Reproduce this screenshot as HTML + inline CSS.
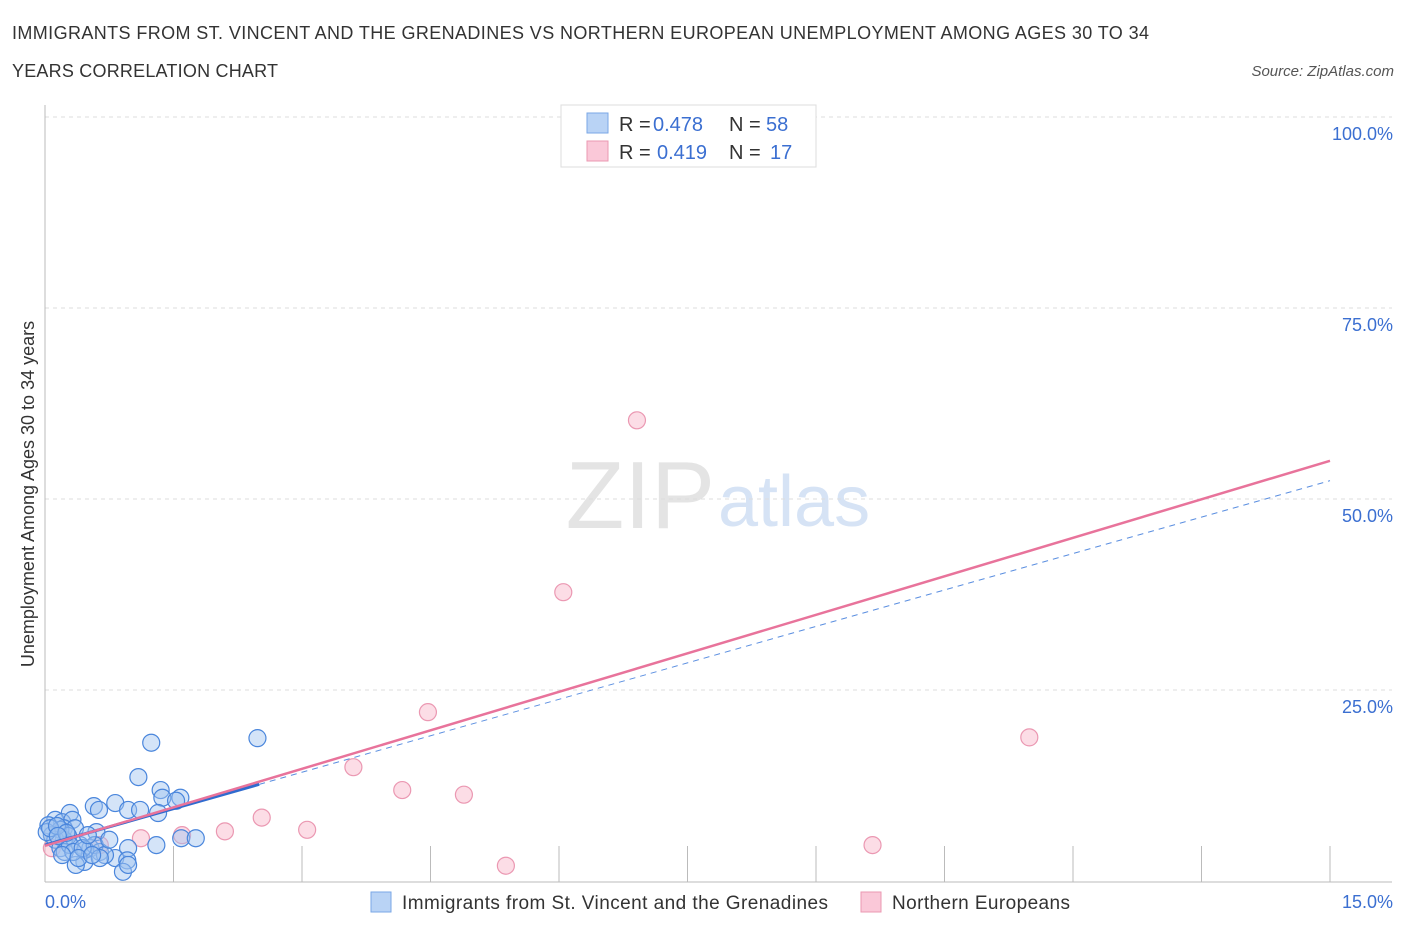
<!DOCTYPE html>
<html><head><meta charset="utf-8"><style>
body{margin:0;background:#fff;font-family:"Liberation Sans",sans-serif;}
svg text{font-family:"Liberation Sans",sans-serif;}
</style></head><body>
<svg id="chart" width="1406" height="930" xmlns="http://www.w3.org/2000/svg">
<text x="12" y="39" font-size="18" fill="#333" textLength="1137">IMMIGRANTS FROM ST. VINCENT AND THE GRENADINES VS NORTHERN EUROPEAN UNEMPLOYMENT AMONG AGES 30 TO 34</text>
<text x="12" y="77" font-size="18" fill="#333" textLength="266">YEARS CORRELATION CHART</text>
<text x="1394" y="76" font-size="15" fill="#555" font-style="italic" text-anchor="end">Source: ZipAtlas.com</text>
<text x="715" y="528" font-size="96" fill="#e4e4e4" font-family="Liberation Serif" text-anchor="end">ZIP</text>
<text x="718" y="526" font-size="72" fill="#d6e3f5">atlas</text>
<g id="grid"></g><g id="marks"></g>
<text transform="translate(34,494) rotate(-90)" font-size="18" fill="#333" text-anchor="middle">Unemployment Among Ages 30 to 34 years</text>
<g>
<rect x="561" y="105" width="255" height="62" fill="#fff" stroke="#ddd"/>
<rect x="587" y="113" width="21" height="20" fill="#b9d3f5" stroke="#7aa7e6"/>
<rect x="587" y="141" width="21" height="20" fill="#fac8d8" stroke="#eb98b2"/>
<text x="619" y="131" font-size="20" fill="#333">R =</text>
<text x="653" y="131" font-size="20" fill="#3b6fd1">0.478</text>
<text x="729" y="131" font-size="20" fill="#333">N =</text>
<text x="766" y="131" font-size="20" fill="#3b6fd1">58</text>
<text x="619" y="159" font-size="20" fill="#333">R =</text>
<text x="657" y="159" font-size="20" fill="#3b6fd1">0.419</text>
<text x="729" y="159" font-size="20" fill="#333">N =</text>
<text x="770" y="159" font-size="20" fill="#3b6fd1">17</text>
</g>
<g>
<rect x="371" y="892" width="20" height="20" fill="#b9d3f5" stroke="#7aa7e6"/>
<text x="402" y="909" font-size="19" fill="#333" textLength="426">Immigrants from St. Vincent and the Grenadines</text>
<rect x="861" y="892" width="20" height="20" fill="#fac8d8" stroke="#eb98b2"/>
<text x="892" y="909" font-size="19" fill="#333" textLength="178">Northern Europeans</text>
</g>
</svg>
<script>
const yTicks=[25,50,75,100];
const yTickLabels=["25.0%","50.0%","75.0%","100.0%"];
const blueXs=[1.24,2.48,1.09,1.35,1.58,1.37,1.53,0.57,0.82,0.63,0.97,1.11,1.32,0.29,0.12,0.20,0.32,0.04,0.22,0.35,0.60,1.59,1.76,1.30,0.97,0.22,0.41,0.53,0.64,0.82,0.96,0.46,0.36,0.91,0.97,0.18,0.08,0.12,0.27,0.02,0.18,0.23,0.29,0.47,0.58,0.70,0.06,0.14,0.25,0.15,0.33,0.64,0.44,0.75,0.50,0.20,0.39,0.55];
const blueYs=[18.1,18.7,13.6,11.9,10.9,10.9,10.5,9.8,10.2,9.3,9.3,9.3,8.9,8.9,8.0,7.7,8.0,7.3,6.9,6.9,6.4,5.6,5.6,4.7,4.3,5.4,4.7,4.3,3.8,3.0,2.7,2.5,2.1,1.2,2.1,6.7,6.0,5.4,5.9,6.4,4.3,3.8,4.7,4.1,4.7,3.4,6.9,7.2,6.3,5.9,3.8,3.0,4.3,5.4,6.0,3.4,3.0,3.4];
const pinkXs=[7.36,6.91,6.05,4.47,11.49,3.60,4.17,4.89,2.53,3.06,2.10,1.60,1.12,5.38,9.66,0.64,0.08];
const pinkYs=[100,60.3,37.8,22.1,18.8,14.9,11.9,11.3,8.3,6.7,6.5,6.0,5.6,2.0,4.7,4.7,4.3];
const blueTrend=[4.7,52.4];
const pinkTrend=[4.6,55.0];
const xTickVals=[0,1.5,3,4.5,6,7.5,9,10.5,12,13.5,15];
const NS="http://www.w3.org/2000/svg";
const X=v=>45+v/15*1285, Y=v=>881-v*7.64;
const grid=document.getElementById('grid'), marks=document.getElementById('marks');
function mk(tag,attrs,parent){const e=document.createElementNS(NS,tag);for(const k in attrs)e.setAttribute(k,attrs[k]);parent.appendChild(e);return e;}
yTicks.forEach((t,i)=>{
 const l=mk('line',{x1:45,x2:1392,y1:Y(t),y2:Y(t),stroke:'#ddd','stroke-dasharray':'4,4'},grid);
 
 
 const tx=mk('text',{x:1393,y:Y(t)+23,'font-size':18,fill:'#3b6fd1','text-anchor':'end'},grid);
 tx.textContent=yTickLabels[i];
 
 
});
mk('line',{x1:45,x2:45,y1:105,y2:882,stroke:'#bbb'},grid);
mk('line',{x1:45,x2:1392,y1:882,y2:882,stroke:'#bbb'},grid);
xTickVals.forEach(v=>{const l=mk('line',{x1:X(v),x2:X(v),y1:846,y2:882,stroke:'#bbb'},grid);
 
 });
let t0=mk('text',{x:45,y:908,'font-size':18,fill:'#3b6fd1'},grid);t0.textContent="0.0%";


let t1=mk('text',{x:1393,y:908,'font-size':18,fill:'#3b6fd1','text-anchor':'end'},grid);t1.textContent="15.0%";


pinkXs.forEach((x,i)=>{const c=mk('circle',{cx:X(x),cy:Y(pinkYs[i]),r:8.5,fill:'rgba(248,180,200,0.45)',stroke:'#eb98b2','stroke-width':1.2},marks);
 
 });
blueXs.forEach((x,i)=>{const c=mk('circle',{cx:X(x),cy:Y(blueYs[i]),r:8.5,fill:'rgba(160,196,240,0.45)',stroke:'#4a86dc','stroke-width':1.2},marks);
 
 });
const bMid=blueTrend[0]+(blueTrend[1]-blueTrend[0])*(2.5/15);
let bl=mk('line',{x1:X(0),y1:Y(blueTrend[0]),x2:X(2.5),y2:Y(bMid),stroke:'#2f6bcf','stroke-width':3},marks);


let bd=mk('line',{x1:X(2.5),y1:Y(bMid),x2:X(15),y2:Y(blueTrend[1]),stroke:'#5a8ee0','stroke-width':1,'stroke-dasharray':'6,5'},marks);


let pl=mk('line',{x1:X(0),y1:Y(pinkTrend[0]),x2:X(15),y2:Y(pinkTrend[1]),stroke:'#e8739b','stroke-width':2.5},marks);


</script>
</body></html>
